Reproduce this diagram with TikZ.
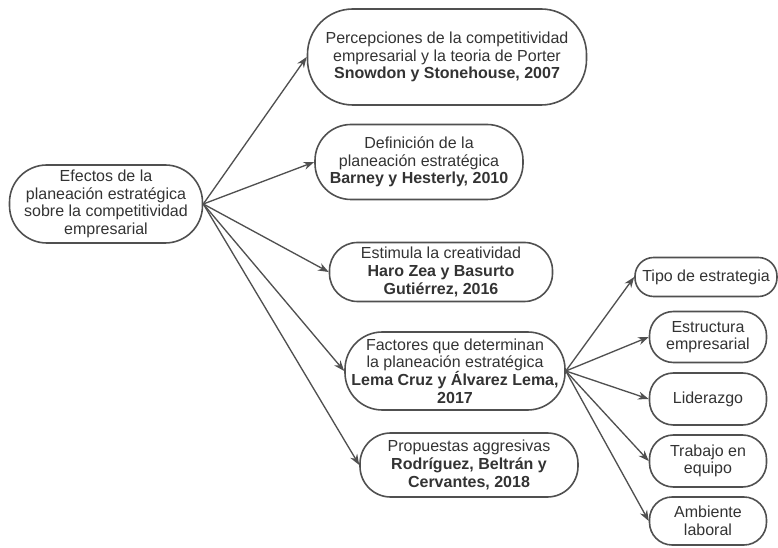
\documentclass[tikz,border=0pt]{standalone}
\usepackage{fontspec}
\setmainfont{Liberation Sans}
\usetikzlibrary{arrows.meta}
\definecolor{edge}{HTML}{505050}
\definecolor{ink}{HTML}{333333}
\begin{document}
\begin{tikzpicture}[x=0.75pt,y=-0.75pt,
  box/.style={draw=edge,line width=1.2pt,align=center,text=ink,
    font=\fontsize{12}{13.2}\selectfont,inner sep=0pt},
  link/.style={draw=edge,line width=1pt,-{Stealth[length=8pt,width=6pt]}}]
\useasboundingbox (0,0) rectangle (778,548);
% left root
\node[box,minimum width=144.75pt,minimum height=58.5pt,rounded corners=28pt] (root) at (106,204)
  {Efectos de la\\planeación estratégica\\sobre la competitividad\\empresarial};
% middle column
\node[box,minimum width=209.25pt,minimum height=72pt,rounded corners=34pt] (b1) at (447,57)
  {Percepciones de la competitividad\\empresarial y la teoria de Porter\\\textbf{Snowdon y Stonehouse, 2007}};
\node[box,minimum width=156pt,minimum height=56.25pt,rounded corners=27pt] (b2) at (419,162)
  {Definición de la\\planeación estratégica\\\textbf{Barney y Hesterly, 2010}};
\node[box,minimum width=167.25pt,minimum height=44.25pt,rounded corners=21pt] (b3) at (441,272)
  {Estimula la creatividad\\\textbf{Haro Zea y Basurto}\\\textbf{Gutiérrez, 2016}};
\node[box,minimum width=165pt,minimum height=58.5pt,rounded corners=28pt] (b4) at (455,371)
  {Factores que determinan\\la planeación estratégica\\\textbf{Lema Cruz y Álvarez Lema,}\\\textbf{2017}};
\node[box,minimum width=163.5pt,minimum height=48pt,rounded corners=23pt] (b5) at (469,465)
  {Propuestas aggresivas\\\textbf{Rodríguez, Beltrán y}\\\textbf{Cervantes, 2018}};
% right column
\node[box,minimum width=106.5pt,minimum height=29.25pt,rounded corners=14pt] (r1) at (706,277)
  {Tipo de estrategia};
\node[box,minimum width=87.75pt,minimum height=38.25pt,rounded corners=18pt] (r2) at (708,337)
  {Estructura\\empresarial};
\node[box,minimum width=87.75pt,minimum height=39pt,rounded corners=18pt] (r3) at (708,399)
  {Liderazgo};
\node[box,minimum width=87.75pt,minimum height=39pt,rounded corners=18pt] (r4) at (708,461)
  {Trabajo en\\equipo};
\node[box,minimum width=87.75pt,minimum height=36pt,rounded corners=17pt] (r5) at (708,521)
  {Ambiente\\laboral};
% connectors
\foreach \t in {b1,b2,b3,b4,b5} \draw[link] (root.east) -- (\t.west);
\foreach \t in {r1,r2,r3,r4,r5} \draw[link] (b4.east) -- (\t.west);
\end{tikzpicture}
\end{document}
